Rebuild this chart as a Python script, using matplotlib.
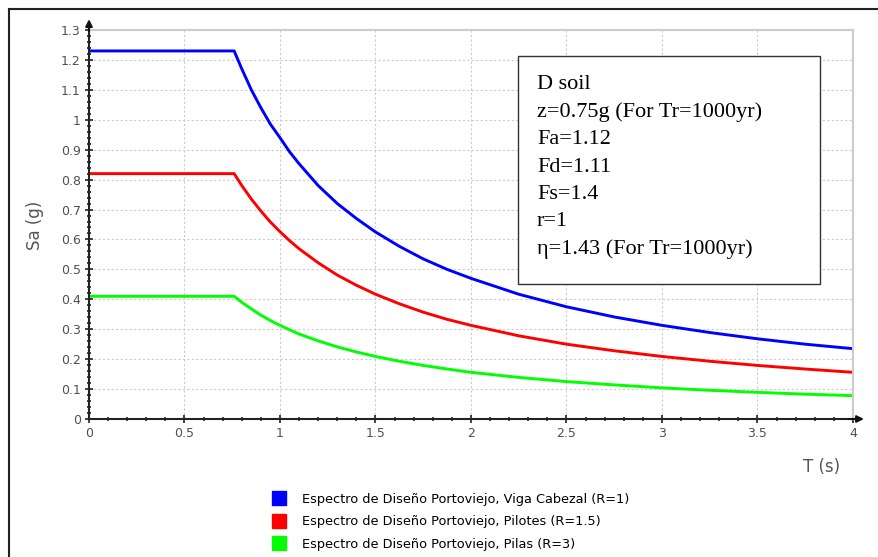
import numpy as np
import matplotlib
matplotlib.use('Agg')
import matplotlib.pyplot as plt
from matplotlib.lines import Line2D
from matplotlib.patches import Rectangle
from matplotlib.ticker import MultipleLocator

plt.rcParams['font.family'] = ['DejaVu Sans']

# values
T = [0.0, 0.76, 0.8, 0.85, 0.9, 0.95, 1.0, 1.05, 1.1, 1.2, 1.3, 1.4, 1.5, 1.625, 1.75, 1.875, 2.0,
     2.25, 2.5, 2.75, 3.0, 3.25, 3.5, 3.75, 4.0]
sa_viga = [1.23, 1.23, 1.17, 1.10, 1.04, 0.985, 0.94, 0.893, 0.853, 0.78, 0.72, 0.67, 0.625,
           0.577, 0.535, 0.5, 0.47, 0.417, 0.375, 0.341, 0.313, 0.289, 0.268, 0.25, 0.235]
sa_pilotes = [0.82, 0.82, 0.78, 0.735, 0.695, 0.658, 0.626, 0.596, 0.569, 0.522, 0.481, 0.447,
              0.417, 0.385, 0.357, 0.333, 0.313, 0.278, 0.25, 0.228, 0.209, 0.193, 0.179,
              0.167, 0.156]
sa_pilas = [0.41, 0.41, 0.39, 0.368, 0.347, 0.329, 0.313, 0.298, 0.284, 0.261, 0.241, 0.224,
            0.209, 0.193, 0.179, 0.167, 0.156, 0.139, 0.125, 0.114, 0.104, 0.096, 0.089,
            0.083, 0.078]

labels = ['Espectro de Diseño Portoviejo, Viga Cabezal (R=1)',
          'Espectro de Diseño Portoviejo, Pilotes (R=1.5)',
          'Espectro de Diseño Portoviejo, Pilas (R=3)']
colors = ['#0000ff', '#ff0000', '#00ff00']

info_lines = ['D soil', 'z=0.75g (For Tr=1000yr)', 'Fa=1.12', 'Fd=1.11',
              'Fs=1.4', 'r=1', 'η=1.43 (For Tr=1000yr)']

W, H = 879, 557
fig = plt.figure(figsize=(W / 100, H / 100), dpi=100)
ax = fig.add_axes([89 / W, 1 - 419 / H, 764 / W, 389 / H])

for y, c in zip([sa_viga, sa_pilotes, sa_pilas], colors):
    ax.plot(T, y, color=c, lw=2.1, solid_joinstyle='round')

ax.set_xlim(0, 4)
ax.set_ylim(0, 1.3)
ax.xaxis.set_major_locator(MultipleLocator(0.5))
ax.xaxis.set_minor_locator(MultipleLocator(0.1))
ax.yaxis.set_major_locator(MultipleLocator(0.1))
ax.yaxis.set_minor_locator(MultipleLocator(0.02))
ax.set_xticklabels([f'{v:g}' for v in ax.get_xticks()])
ax.set_yticklabels([f'{v:g}' for v in ax.get_yticks()])
ax.grid(True, which='major', color='#cccccc', ls=(0, (2, 2)), lw=0.8)
ax.tick_params(which='major', direction='inout', length=6, width=1.2, color='#222222',
               labelsize=9, labelcolor='#505050', pad=3)
ax.tick_params(which='minor', direction='inout', length=3, width=1.2, color='#222222')

for s in ['left', 'bottom']:
    ax.spines[s].set_color('#222222')
    ax.spines[s].set_linewidth(1.5)
for s in ['top', 'right']:
    ax.spines[s].set_color('#cccccc')
    ax.spines[s].set_linewidth(1.5)

# axis arrows
ax.annotate('', xy=(0, 1.035), xytext=(0, 0.99), xycoords='axes fraction',
            arrowprops=dict(arrowstyle='-|>', color='#111111', lw=1.5,
                            mutation_scale=10), annotation_clip=False)
ax.annotate('', xy=(1.018, 0), xytext=(0.99, 0), xycoords='axes fraction',
            arrowprops=dict(arrowstyle='-|>', color='#111111', lw=1.5,
                            mutation_scale=10), annotation_clip=False)

fig.text(35 / W, 1 - 225 / H, 'Sa (g)', rotation=90, ha='center', va='center',
         fontsize=12, color='#555555')
fig.text(822 / W, 1 - 467 / H, 'T (s)', ha='center', va='center',
         fontsize=12, color='#555555')

# parameter box
fig.patches.append(Rectangle((518 / W, 1 - 284 / H), 302 / W, 228 / H,
                             transform=fig.transFigure, fill=True, facecolor='white',
                             edgecolor='#333333', lw=1.0, zorder=5))
fig.text(537 / W, 1 - 75 / H, '\n'.join(info_lines), ha='left', va='top',
         fontsize=16, linespacing=1.58, zorder=6,
         family=['Liberation Serif', 'DejaVu Serif'])

handles = [Line2D([], [], marker='s', ls='none', markersize=9.4, color=c) for c in colors]
fig.legend(handles, labels, loc='upper left', bbox_to_anchor=(272.5 / W, 1 - 493 / H),
           frameon=False, fontsize=9.3, handlelength=1.0, handletextpad=1.25,
           labelspacing=0.72, borderaxespad=0, borderpad=0)

# outer frame
fig.add_artist(Line2D([9 / W, 9 / W], [0, 1 - 9 / H], color='#222222', lw=1.5))
fig.add_artist(Line2D([9 / W, 1], [1 - 9 / H, 1 - 9 / H], color='#222222', lw=1.5))

fig.savefig('out.png', dpi=100)
